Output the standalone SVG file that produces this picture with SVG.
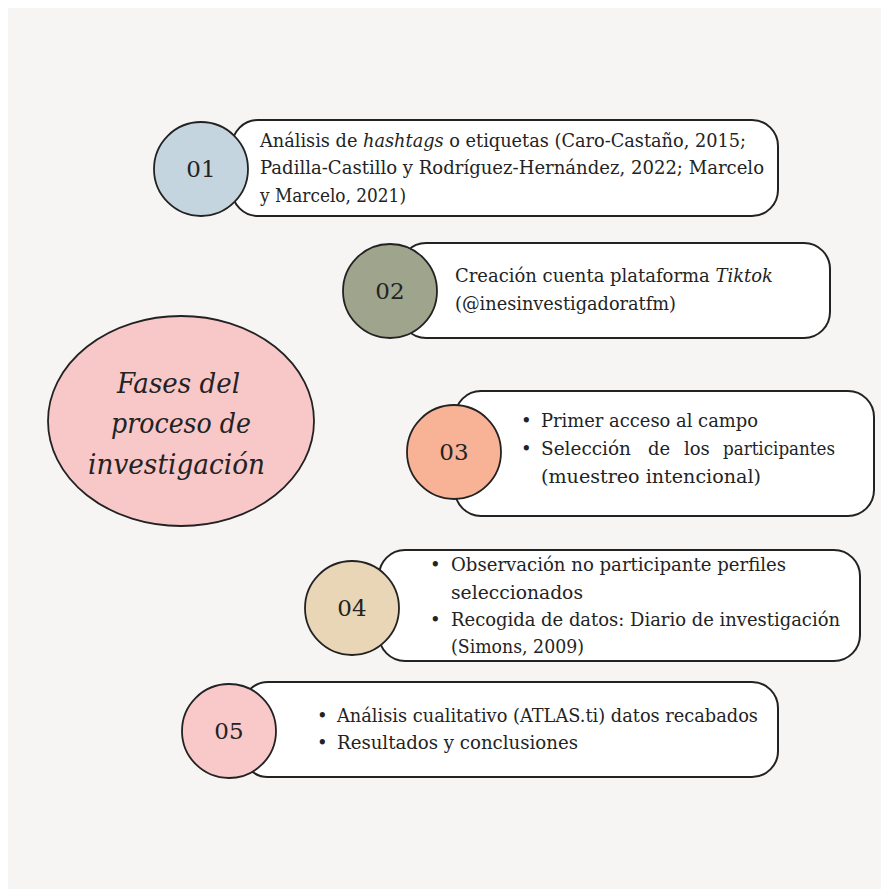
<svg xmlns="http://www.w3.org/2000/svg" width="881" height="889" viewBox="0 0 881 889">
<style>
.box{fill:#fff;stroke:#222;stroke-width:2}
.num{stroke:#222;stroke-width:1.8}
.t{font-family:"DejaVu Serif","Liberation Serif",serif;font-size:18px;fill:#232323}
.n{font-family:"DejaVu Serif","Liberation Serif",serif;font-size:23px;fill:#232323;text-anchor:middle}
.i{font-style:italic}
.title{font-family:"DejaVu Serif","Liberation Serif",serif;font-style:italic;font-size:27px;fill:#232323}
</style>
<rect x="0" y="0" width="881" height="889" fill="#ffffff"/>
<rect x="8" y="8" width="873" height="881" fill="#f6f5f3"/>
<g id="connectors"></g>
<g id="title">
<ellipse cx="181" cy="421" rx="133" ry="105" fill="#f8c8c9" stroke="#222" stroke-width="1.8"/>
<text class="title" x="117" y="393" textLength="123" lengthAdjust="spacingAndGlyphs">Fases del</text>
<text class="title" x="111" y="433" textLength="140" lengthAdjust="spacingAndGlyphs">proceso de</text>
<text class="title" x="88" y="474" textLength="177" lengthAdjust="spacingAndGlyphs">investigación</text>
</g>
<g id="fase01">
<rect class="box" x="232" y="120" width="546" height="96" rx="26"/>
<circle class="num" cx="201" cy="169" r="47" fill="#c5d5df"/>
<text class="n" x="201" y="177">01</text>
<text class="t" x="260" y="147" textLength="486" lengthAdjust="spacingAndGlyphs">Análisis de <tspan class="i">hashtags</tspan> o etiquetas (Caro-Castaño, 2015;</text>
<text class="t" x="260" y="174" textLength="504" lengthAdjust="spacingAndGlyphs">Padilla-Castillo y Rodríguez-Hernández, 2022; Marcelo</text>
<text class="t" x="260" y="202" textLength="146" lengthAdjust="spacingAndGlyphs">y Marcelo, 2021)</text>
</g>
<g id="fase02">
<rect class="box" x="400" y="243" width="430" height="95" rx="26"/>
<circle class="num" cx="390" cy="291" r="47" fill="#9fa48d"/>
<text class="n" x="390" y="299">02</text>
<text class="t" x="455" y="282" textLength="318" lengthAdjust="spacingAndGlyphs">Creación cuenta plataforma <tspan class="i">Tiktok</tspan></text>
<text class="t" x="455" y="310" textLength="221" lengthAdjust="spacingAndGlyphs">(@inesinvestigadoratfm)</text>
</g>
<g id="fase03">
<rect class="box" x="455" y="391" width="419" height="125" rx="26"/>
<circle class="num" cx="454" cy="452" r="47" fill="#f8b397"/>
<text class="n" x="454" y="460">03</text>
<text class="t" x="521" y="427">•</text>
<text class="t" x="541" y="427" textLength="217" lengthAdjust="spacingAndGlyphs">Primer acceso al campo</text>
<text class="t" x="521" y="455">•</text>
<text class="t" x="541" y="455" textLength="90" lengthAdjust="spacingAndGlyphs">Selección</text>
<text class="t" x="648" y="455">de</text>
<text class="t" x="684" y="455">los</text>
<text class="t" x="723" y="455" textLength="112" lengthAdjust="spacingAndGlyphs">participantes</text>
<text class="t" x="541" y="483" textLength="220" lengthAdjust="spacingAndGlyphs">(muestreo intencional)</text>
</g>
<g id="fase04">
<rect class="box" x="379" y="550" width="481" height="111" rx="26"/>
<circle class="num" cx="352" cy="608" r="47" fill="#e8d6b6"/>
<text class="n" x="352" y="616">04</text>
<text class="t" x="430" y="571">•</text>
<text class="t" x="451" y="571" textLength="335" lengthAdjust="spacingAndGlyphs">Observación no participante perfiles</text>
<text class="t" x="451" y="599" textLength="132" lengthAdjust="spacingAndGlyphs">seleccionados</text>
<text class="t" x="430" y="626">•</text>
<text class="t" x="451" y="626" textLength="389" lengthAdjust="spacingAndGlyphs">Recogida de datos: Diario de investigación</text>
<text class="t" x="451" y="653" textLength="133" lengthAdjust="spacingAndGlyphs">(Simons, 2009)</text>
</g>
<g id="fase05">
<rect class="box" x="242" y="682" width="536" height="95" rx="26"/>
<circle class="num" cx="229" cy="731" r="47" fill="#f9c9ca"/>
<text class="n" x="229" y="739">05</text>
<text class="t" x="317" y="722">•</text>
<text class="t" x="337" y="722" textLength="421" lengthAdjust="spacingAndGlyphs">Análisis cualitativo (ATLAS.ti) datos recabados</text>
<text class="t" x="317" y="749">•</text>
<text class="t" x="337" y="749" textLength="241" lengthAdjust="spacingAndGlyphs">Resultados y conclusiones</text>
</g>
</svg>
